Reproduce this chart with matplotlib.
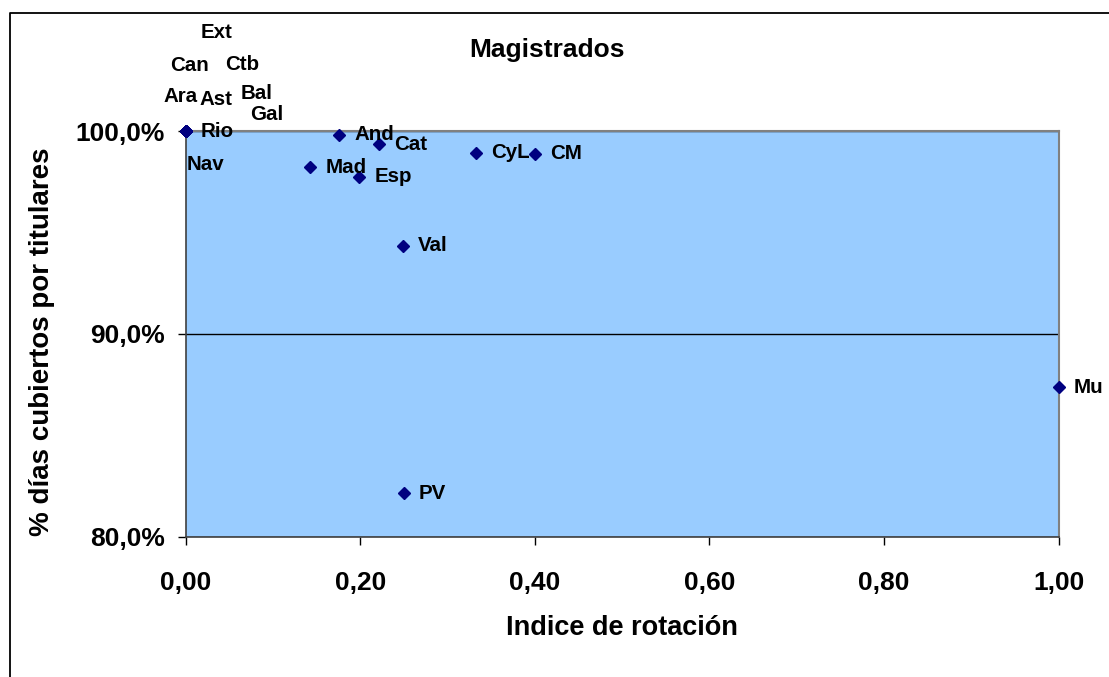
import numpy as np
import matplotlib
matplotlib.use("Agg")
import matplotlib.pyplot as plt
from matplotlib.lines import Line2D
from matplotlib.ticker import FuncFormatter

plt.rcParams['font.family'] = ['Liberation Sans', 'DejaVu Sans']
plt.rcParams['font.weight'] = 'bold'

# datos: comunidades, indice de rotacion, % dias cubiertos por titulares
ccaa = ['Ara', 'Ast', 'Can', 'Ext', 'Ctb', 'Bal', 'Gal', 'Rio', 'Nav',
        'And', 'Cat', 'Mad', 'Esp', 'CyL', 'CM', 'Val', 'PV', 'Mu']
rotacion = [0.0, 0.0, 0.0, 0.0, 0.0, 0.0, 0.0, 0.0, 0.0,
            0.176, 0.222, 0.143, 0.199, 0.333, 0.400, 0.249, 0.250, 1.0]
cubiertos = [1.0, 1.0, 1.0, 1.0, 1.0, 1.0, 1.0, 1.0, 1.0,
             0.9983, 0.9937, 0.9823, 0.9777, 0.9895, 0.9889, 0.9436, 0.8213, 0.8737]

# posicion de las etiquetas (pixeles respecto al punto), como quedaron en Excel
offsets = {'Ara': (-22, 35), 'Ast': (14, 32), 'Can': (-15, 66), 'Ext': (15, 99),
           'Ctb': (40, 67), 'Bal': (55, 38), 'Gal': (65, 17), 'Rio': (15, 0),
           'Nav': (1, -33)}

fig = plt.figure(figsize=(11.09, 6.77), dpi=100)
ax = fig.add_axes([0.1673, 0.2075, 0.7872, 0.5983])
ax.set_facecolor('#99CCFF')

ax.plot(rotacion, cubiertos, 'D', color='#000080', markersize=6.3, clip_on=False, zorder=5)

for name, x, y in zip(ccaa, rotacion, cubiertos):
    dx, dy = offsets.get(name, (15, 0))
    ax.annotate(name, (x, y), xytext=(dx, dy), textcoords='offset pixels',
                ha='left', va='center', fontsize=14.8, fontweight='bold',
                annotation_clip=False, zorder=6)

ax.set_xlim(0, 1)
ax.set_ylim(0.8, 1.0)
ax.set_xticks(np.arange(0, 1.01, 0.2))
ax.set_yticks([0.8, 0.9, 1.0])
ax.xaxis.set_major_formatter(FuncFormatter(lambda v, p: ('%.2f' % v).replace('.', ',')))
ax.yaxis.set_major_formatter(FuncFormatter(lambda v, p: ('%.1f%%' % (v * 100)).replace('.', ',')))
ax.yaxis.grid(True, color='black', linewidth=1)
ax.set_axisbelow(True)
ax.tick_params(axis='both', direction='out', length=6, width=1, labelsize=19, colors='black')
ax.tick_params(axis='y', pad=9)
ax.tick_params(axis='x', pad=19)
for lab in ax.get_xticklabels() + ax.get_yticklabels():
    lab.set_fontweight('bold')
for s in ['top', 'right']:
    ax.spines[s].set_color('#808080')
    ax.spines[s].set_linewidth(1.5)
for s in ['left', 'bottom']:
    ax.spines[s].set_color('#404040')
    ax.spines[s].set_linewidth(1.2)

fig.text(547 / 1109, 1 - 50 / 677, 'Magistrados', ha='center', va='center',
         fontsize=19, fontweight='bold')
fig.text(622 / 1109, 1 - 628 / 677, 'Indice de rotación', ha='center', va='center',
         fontsize=19.5, fontweight='bold')
fig.text(42 / 1109, 1 - 342 / 677, '% días cubiertos por titulares', ha='center',
         va='center', rotation=90, fontsize=20, fontweight='bold')

# borde del area del grafico (cortado a la derecha y abajo)
fig.add_artist(Line2D([10 / 1109, 10 / 1109, 1.0], [0.0, 1 - 13 / 677, 1 - 13 / 677],
                      color='black', linewidth=1.3, transform=fig.transFigure))

fig.savefig('out.png', dpi=100)
